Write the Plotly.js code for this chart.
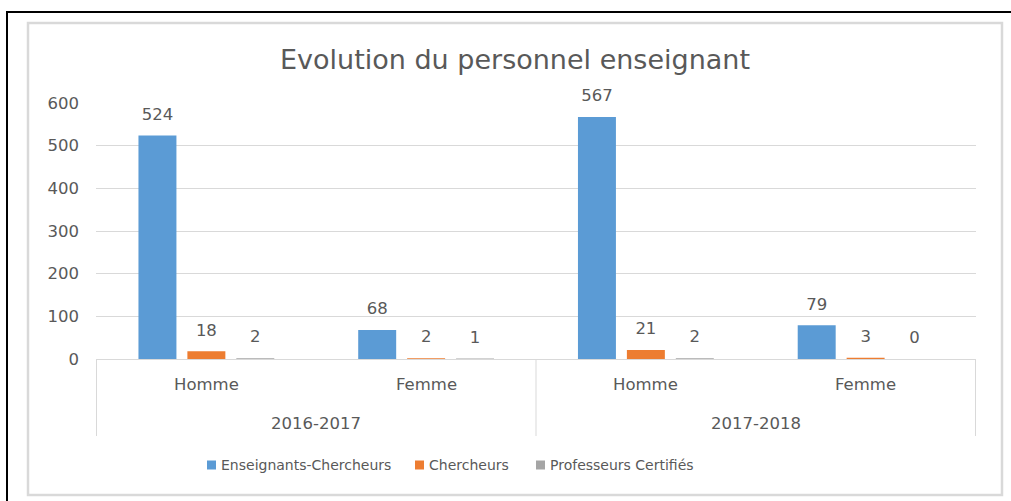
<!DOCTYPE html>
<html><head><meta charset="utf-8">
<script src="https://cdn.plot.ly/plotly-3.0.1.min.js"></script>
<style>html,body{margin:0;padding:0;background:#fff}#chart{width:1011px;height:501px}</style>
</head><body><div id="chart"></div>
<script>
const years = ["2016-2017","2016-2017","2017-2018","2017-2018"];
const genders = ["Homme","Femme","Homme","Femme"];
const seriesNames = ["Enseignants-Chercheurs","Chercheurs","Professeurs Certifiés"];
const enseignantsChercheurs = [524,68,567,79];
const chercheurs = [18,2,21,3];
const professeursCertifies = [2,1,2,0];
const yTicks = [0,100,200,300,400,500,600];
const titleText = "Evolution du personnel enseignant";

const colors = ["#5B9BD5","#ED7D31","#A5A5A5"];
const textColor = "#595959";
const gridColor = "#d9d9d9";
const font = "DejaVu Sans, sans-serif";
const series = [enseignantsChercheurs, chercheurs, professeursCertifies];

// plot area in pixels (for paper-coordinate conversions of decorations)
const L = 96, R = 976, T = 103, B = 359, W = 1011, H = 501;
const px = v => (v - L) / (R - L);
const py = v => (B - v) / (B - T);

const traces = [];
series.forEach((vals, i) => {
  traces.push({
    type: "bar", name: seriesNames[i], x: [years, genders], y: vals,
    marker: {color: colors[i]}, showlegend: false, hoverinfo: "y+name"
  });
});
series.forEach((vals, i) => {
  traces.push({
    type: "scatter", mode: "markers+text", x: [years, genders], y: vals,
    text: vals.map(String), textposition: "top center",
    textfont: {family: font, size: 16.5, color: textColor},
    marker: {size: 17, opacity: 0}, showlegend: false, hoverinfo: "skip", cliponaxis: false
  });
});

const shapes = [
  {type: "rect", xref: "paper", yref: "paper", x0: px(28), x1: px(1002), y0: py(495), y1: py(23),
   line: {color: gridColor, width: 2.5}, layer: "below"},
  {type: "line", xref: "paper", yref: "paper", x0: px(6), x1: px(1015), y0: py(12), y1: py(12), line: {color: "#000", width: 2}},
  {type: "line", xref: "paper", yref: "paper", x0: px(7), x1: px(7), y0: py(12), y1: py(505), line: {color: "#000", width: 2}}
];
const annotations = [];

// two-level category labels, positioned by category index on the x axis
genders.forEach((g, i) => {
  annotations.push({xref: "x", yref: "paper", x: i, y: py(384), yanchor: "middle", xanchor: "center",
    showarrow: false, text: g, font: {family: font, size: 16.5, color: textColor}});
});
const yearGroups = [];
years.forEach((y, i) => {
  const last = yearGroups[yearGroups.length - 1];
  if (last && last.name === y) last.end = i; else yearGroups.push({name: y, start: i, end: i});
});
yearGroups.forEach((gr, k) => {
  annotations.push({xref: "x", yref: "paper", x: (gr.start + gr.end) / 2, y: py(423), yanchor: "middle", xanchor: "center",
    showarrow: false, text: gr.name, font: {family: font, size: 16.5, color: textColor}});
  if (k === 0) shapes.push({type: "line", xref: "x", yref: "paper", x0: gr.start - 0.5, x1: gr.start - 0.5,
    y0: py(359), y1: py(436), line: {color: gridColor, width: 1}});
  shapes.push({type: "line", xref: "x", yref: "paper", x0: gr.end + 0.5, x1: gr.end + 0.5,
    y0: py(359), y1: py(436), line: {color: gridColor, width: 1}});
});

// legend
const legendSq = [207, 415, 536];
const legendY = 465;
seriesNames.forEach((n, i) => {
  shapes.push({type: "rect", xref: "paper", yref: "paper",
    x0: px(legendSq[i]), x1: px(legendSq[i] + 9), y0: py(legendY + 4.5), y1: py(legendY - 4.5),
    fillcolor: colors[i], line: {width: 0}});
  annotations.push({xref: "paper", yref: "paper", x: px(legendSq[i] + 12), y: py(legendY),
    xanchor: "left", yanchor: "middle", showarrow: false, text: n,
    font: {family: font, size: 14, color: textColor}});
});

const layout = {
  width: W, height: H,
  margin: {l: L, r: W - R, t: T, b: H - B, pad: 0},
  paper_bgcolor: "#fff", plot_bgcolor: "#fff",
  font: {family: font, color: textColor},
  title: {text: titleText, font: {family: font, size: 27, color: textColor},
    xref: "container", yref: "container", x: 515 / W, xanchor: "center", y: 1 - 60 / H, yanchor: "middle"},
  bargap: 0.332, bargroupgap: 0.224,
  scattermode: "group", scattergap: 0.332,
  xaxis: {type: "multicategory", showdividers: false, showticklabels: false,
    showline: true, linecolor: gridColor, linewidth: 1,
    ticks: "", showgrid: false, fixedrange: true},
  yaxis: {range: [0, 600], tickvals: yTicks, gridcolor: gridColor, gridwidth: 1, zeroline: false,
    showline: false, ticks: "", tickfont: {family: font, size: 16.5, color: textColor}, ticklabelstandoff: 16, fixedrange: true},
  shapes: shapes, annotations: annotations, showlegend: false
};
Plotly.newPlot("chart", traces, layout, {displayModeBar: false, staticPlot: true});
</script></body></html>
